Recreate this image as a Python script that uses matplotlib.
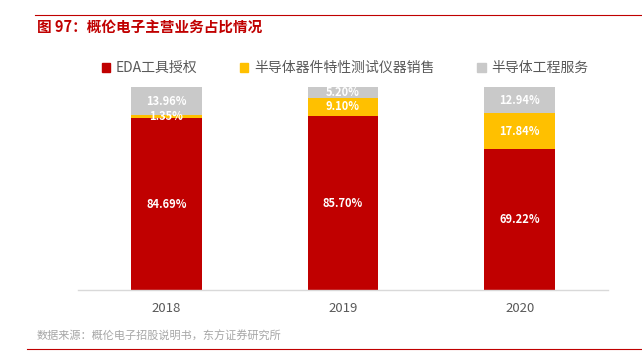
import matplotlib
matplotlib.use("Agg")
import matplotlib.pyplot as plt
from matplotlib.patches import Rectangle
from matplotlib.lines import Line2D

plt.rcParams['font.family'] = ['Noto Sans CJK SC', 'DejaVu Sans']

years = ["2018", "2019", "2020"]
series_names = ["EDA工具授权", "半导体器件特性测试仪器销售", "半导体工程服务"]
eda = [84.69, 85.70, 69.22]
instr = [1.35, 9.10, 17.84]
service = [13.96, 5.20, 12.94]
colors = ["#C00000", "#FFC000", "#C9C9C9"]
title = "图 97：概伦电子主营业务占比情况"
source = "数据来源：概伦电子招股说明书，东方证券研究所"

W, H = 642, 356
fig = plt.figure(figsize=(W / 100, H / 100), dpi=100)

ax = fig.add_axes([78 / W, 1 - 290 / H, 530 / W, 203 / H])
x = list(range(len(years)))
bw = 0.40
bottoms = [0.0] * len(years)
for vals, col in zip([eda, instr, service], colors):
    ax.bar(x, vals, bw, bottom=bottoms, color=col, edgecolor='none', zorder=2)
    for xi, v, b in zip(x, vals, bottoms):
        ax.text(xi, b + v / 2, f"{v:.2f}%", ha='center', va='center',
                color='white', fontsize=8, fontweight='bold', zorder=3)
    bottoms = [b + v for b, v in zip(bottoms, vals)]

ax.set_xlim(-0.5, 2.5)
ax.set_ylim(0, 100)
ax.set_yticks([])
ax.set_xticks(x)
ax.set_xticklabels(years, color='#595959', fontsize=9.5)
ax.tick_params(axis='x', length=0, pad=9)
for s in ['top', 'left', 'right']:
    ax.spines[s].set_visible(False)
ax.spines['bottom'].set_color('#D9D9D9')
ax.spines['bottom'].set_linewidth(1.0)

# title and rules
fig.add_artist(Line2D([35 / W, 1], [1 - 15 / H, 1 - 15 / H], color='#C00000', lw=0.8))
fig.text(37 / W, 1 - 27 / H, title, color='#C00000', fontsize=10.5, fontweight='bold',
         ha='left', va='center')
fig.add_artist(Line2D([27 / W, 1], [1 - 349 / H, 1 - 349 / H], color='#C00000', lw=0.8))
fig.text(37 / W, 1 - 336 / H, source, color='#A6A6A6', fontsize=8, ha='left', va='center')

# legend
handles = [Rectangle((0, 0), 1, 1, color=c) for c in colors]
leg = fig.legend(handles, series_names, loc='center', bbox_to_anchor=(345 / W, 1 - 68 / H),
                 ncol=3, frameon=False, fontsize=10, handlelength=0.6, handleheight=0.6,
                 handletextpad=0.4, columnspacing=3.1)
for t in leg.get_texts():
    t.set_color('#595959')

fig.savefig("out.png", dpi=100)
